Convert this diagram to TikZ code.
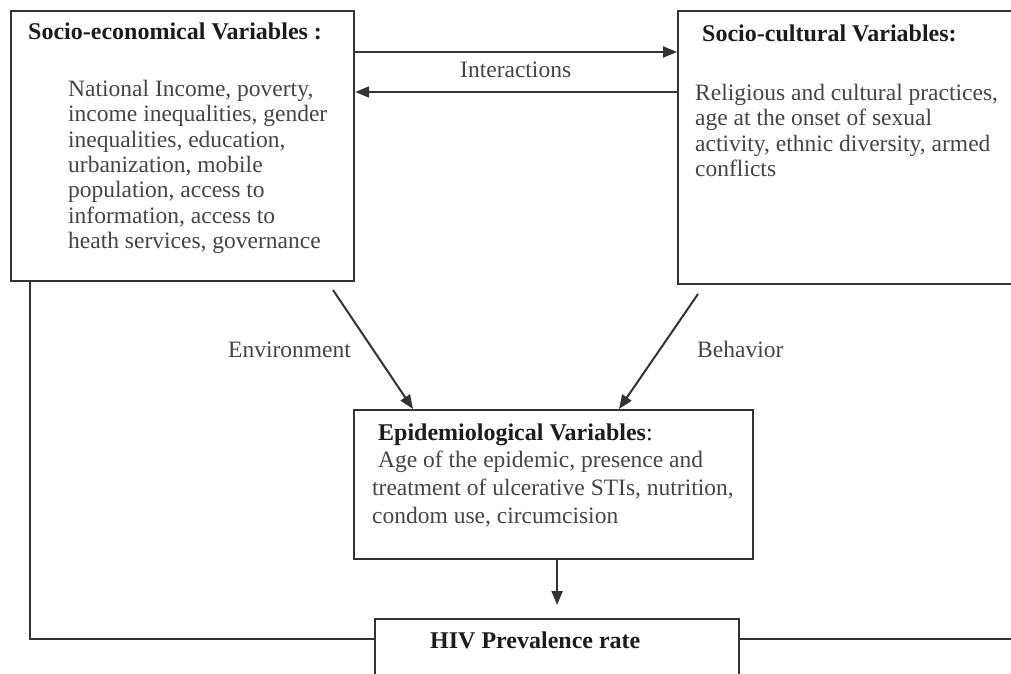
\documentclass[tikz,border=0pt]{standalone}
\usepackage{fontspec}
\setmainfont{Liberation Serif}
\usetikzlibrary{arrows.meta,positioning}
\definecolor{linegrey}{HTML}{333333}
\definecolor{textgrey}{HTML}{454545}
\definecolor{headgrey}{HTML}{1C1C1C}
\tikzset{node distance=2.0cm, auto}
\tikzset{
  varbox/.style={draw=linegrey, line width=2.2pt, rectangle, inner sep=0pt, anchor=north west},
  vartitle/.style={inner sep=0pt, anchor=base west, text=headgrey, font=\fontsize{24}{25.3}\selectfont\bfseries},
  vartext/.style={inner sep=0pt, anchor=north west, align=left, text=textgrey, font=\fontsize{23.5}{25.3}\selectfont},
  linklabel/.style={inner sep=0pt, anchor=base west, text=textgrey, font=\fontsize{23.5}{25.3}\selectfont},
  link/.style={draw=linegrey, line width=2pt},
  arr/.style={link, -{Triangle[length=14pt,width=11pt]}}
}

\begin{document}
\begin{tikzpicture}[x=1pt, y=-1pt]
\clip (0,0) rectangle (1011,674);
\fill[white] (0,0) rectangle (1011,674);

% the four boxes
\node[varbox, minimum width=343pt, minimum height=270pt] (socecon) at (10,10) {};
\node[varbox, minimum width=400pt, minimum height=273pt] (soccult) at (677,10) {};
\node[varbox, minimum width=399pt, minimum height=149pt] (epidem) at (353,409) {};
\node[varbox, minimum width=364pt, minimum height=90pt] (hiv) at (374,618) {};

% texts
\node[vartitle] (socecontitle) at (28,40) {Socio-economical Variables :};
\node[vartext] (socecontext) at (68,80) {National Income, poverty,\\
  income inequalities, gender\\
  inequalities, education,\\
  urbanization, mobile\\
  population, access to\\
  information, access to\\
  heath services, governance};

\node[vartitle] (soccultitle) at (702,42) {Socio-cultural Variables:};
\node[vartext] (socculttext) at (695,84) {Religious and cultural practices,\\
  age at the onset of sexual\\
  activity, ethnic diversity, armed\\
  conflicts};

\node[vartitle] (epidemtitle) at (378,440) {Epidemiological Variables\textmd{:}};
\node[vartext, font=\fontsize{23.5}{28}\selectfont] (epidemtext) at (372,451) {\hspace*{6pt}Age of the epidemic, presence and\\
  treatment of ulcerative STIs, nutrition,\\
  condom use, circumcision};

\node[vartitle] (hivtitle) at (430,648) {HIV Prevalence rate};

% connectors
\draw[arr] ([yshift=-42pt]socecon.north east) -- ([yshift=-42pt]soccult.north west);
\draw[arr] ([yshift=-82pt]soccult.north west) -- ([yshift=-82pt]socecon.north east);
\node[linklabel] (interlabel) at (460,78) {Interactions};

\coordinate (envstart) at (333,290);
\coordinate (behstart) at (698,294);
\draw[arr] (envstart) -- ([xshift=60pt]epidem.north west);
\draw[arr] (behstart) -- ([xshift=266pt]epidem.north west);
\node[linklabel] (envlabel) at (228,357) {Environment};
\node[linklabel] (behlabel) at (697,357) {Behavior};

\draw[arr] (epidem.south -| hiv.north) -- ([yshift=13pt]hiv.north);

\draw[link] ([xshift=20pt]socecon.south west) |- ([yshift=-21pt]hiv.north west);
\draw[link] ([yshift=-21pt]hiv.north east) -| ([xshift=-20pt]soccult.south east);
\end{tikzpicture}
\end{document}
